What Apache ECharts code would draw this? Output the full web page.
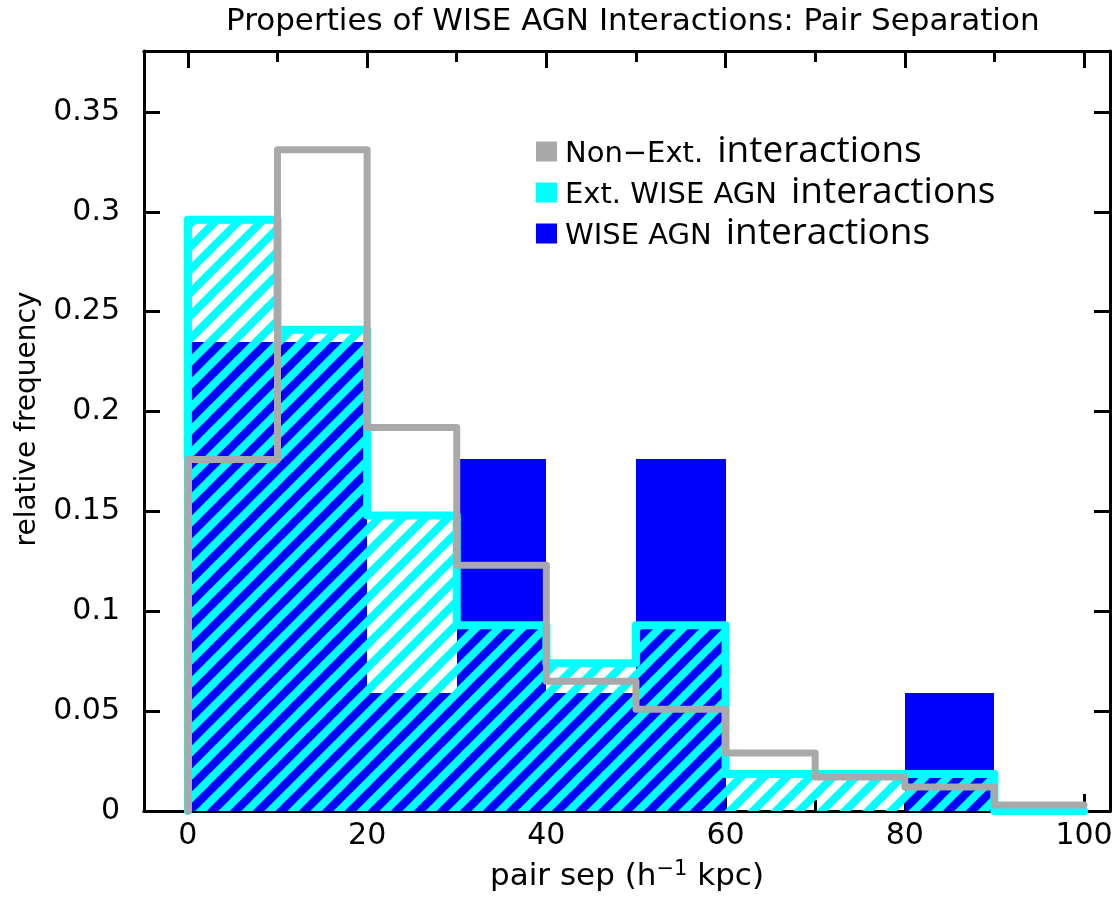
<!DOCTYPE html>
<html>
<head>
<meta charset="utf-8">
<script src="https://cdn.jsdelivr.net/npm/echarts@6/dist/echarts.min.js"></script>
<style>
  html, body { margin: 0; padding: 0; background: #fff; }
  #chart { width: 1116px; height: 900px; }
</style>
</head>
<body>
<div id="chart"></div>
<script>
// Histogram bin edges (pair separation, h^-1 kpc)
const binEdges = [0, 10, 20, 30, 40, 50, 60, 70, 80, 90, 100];
// Relative frequency per bin
const nonExtInteractions = [0.176, 0.331, 0.192, 0.123, 0.065, 0.051, 0.029, 0.017, 0.012, 0.003];
const extWiseAgn = [0.296, 0.241, 0.148, 0.093, 0.074, 0.093, 0.0185, 0.0185, 0.0185, 0];
const wiseAgn = [0.235, 0.235, 0.059, 0.176, 0.059, 0.176, 0, 0, 0.059, 0];
// Axis ticks and labels
const xMajorTicks = [0, 20, 40, 60, 80, 100];
const xMinorTicks = [10, 30, 50, 70, 90];
const yTicks = [0, 0.05, 0.1, 0.15, 0.2, 0.25, 0.3, 0.35];

const NAME_NONEXT = 'Non\u2212Ext. interactions';
const NAME_EXT = 'Ext. WISE AGN interactions';
const NAME_AGN = 'WISE AGN interactions';

const GRAY = '#a9a9a9';
const CYAN = '#00ffff';
const BLUE = '#0000ff';
const LABEL_FONT = '"DejaVu Sans", sans-serif';
const LEGEND_WORD_FONT = '"Open Sans", sans-serif';

// bins as [x0, x1, value]
function binRows(values) {
  return values.map((v, i) => [binEdges[i], binEdges[i + 1], v]);
}
// outline of a histogram as a step path through bin edges
function stepPoints(values) {
  const pts = [[binEdges[0], 0]];
  values.forEach((v, i) => {
    pts.push([binEdges[i], v]);
    pts.push([binEdges[i + 1], v]);
  });
  return pts;
}

// seamless diagonal hatch tile, transparent between stripes
function hatchTile() {
  const p = 23;
  const c = document.createElement('canvas');
  c.width = p; c.height = p;
  const ctx = c.getContext('2d');
  ctx.strokeStyle = CYAN;
  ctx.lineWidth = 8;
  ctx.lineCap = 'square';
  for (let k = -2; k <= 2; k++) {
    ctx.beginPath();
    ctx.moveTo(k * p - p, 2 * p);
    ctx.lineTo(k * p + 2 * p, -p);
    ctx.stroke();
  }
  return c;
}

// one rectangle per bin, edges snapped to whole pixels so neighbours join cleanly
function rectRenderer(fill) {
  return function (params, api) {
    const top = api.coord([api.value(0), api.value(2)]);
    const bottom = api.coord([api.value(1), 0]);
    const x0 = Math.round(top[0]), x1 = Math.round(bottom[0]);
    const y0 = Math.round(top[1]), y1 = Math.round(bottom[1]);
    if (y1 - y0 <= 0) return null;
    return {
      type: 'rect',
      shape: { x: x0, y: y0, width: x1 - x0, height: y1 - y0 },
      style: { fill: fill, stroke: null }
    };
  };
}

const chart = echarts.init(document.getElementById('chart'), null, { renderer: 'canvas' });

const axisLineStyle = { color: '#000', width: 3 };
const xRange = { min: -4.9, max: 102.9 };

function xAxisDef(position, ticks, len, withLabels, extra) {
  return Object.assign({
    type: 'value', position: position, min: xRange.min, max: xRange.max,
    axisLine: { show: true, onZero: false, lineStyle: axisLineStyle },
    axisTick: { show: true, inside: true, length: len, customValues: ticks, lineStyle: { color: '#000', width: 3 } },
    axisLabel: withLabels ? {
      show: true, customValues: ticks, margin: 10, color: '#000',
      fontFamily: LABEL_FONT, fontSize: 30
    } : { show: false },
    splitLine: { show: false }
  }, extra || {});
}

function yAxisDef(position, withLabels, extra) {
  return Object.assign({
    type: 'value', position: position, min: 0, max: 0.3805,
    axisLine: { show: true, onZero: false, lineStyle: axisLineStyle },
    axisTick: { show: true, inside: true, length: 16, customValues: yTicks, lineStyle: { color: '#000', width: 3 } },
    axisLabel: withLabels ? {
      show: true, customValues: yTicks, margin: 24, color: '#000',
      fontFamily: LABEL_FONT, fontSize: 30
    } : { show: false },
    splitLine: { show: false }
  }, extra || {});
}

const option = {
  animation: false,
  backgroundColor: '#fff',
  title: {
    text: 'Properties of WISE AGN Interactions: Pair Separation',
    left: 221, top: 1,
    textStyle: { fontFamily: LABEL_FONT, fontSize: 31, fontWeight: 'normal', color: '#000' }
  },
  grid: { left: 144, right: 6, top: 51, bottom: 89 },
  legend: {
    orient: 'vertical',
    left: 536, top: 133, padding: 0,
    itemWidth: 21, itemHeight: 20, itemGap: 4,
    icon: 'rect',
    data: [
      { name: NAME_NONEXT, itemStyle: { color: GRAY, borderWidth: 0 } },
      { name: NAME_EXT, itemStyle: { color: CYAN, borderWidth: 0 } },
      { name: NAME_AGN, itemStyle: { color: BLUE, borderWidth: 0 } }
    ],
    formatter: function (name) {
      const cut = name.lastIndexOf(' interactions');
      return '{a|' + name.slice(0, cut) + '}{b|interactions}';
    },
    textStyle: {
      color: '#000',
      rich: {
        a: { fontFamily: LABEL_FONT, fontSize: 29, lineHeight: 32, color: '#000', padding: [5, 14, 0, 3] },
        b: { fontFamily: LEGEND_WORD_FONT, fontSize: 37, lineHeight: 32, color: '#000' }
      }
    },
    selectedMode: false
  },
  xAxis: [
    xAxisDef('bottom', xMajorTicks, 17, true, {
      name: 'pair sep (h{sup|\u22121} kpc)',
      nameLocation: 'middle', nameGap: 48,
      nameTextStyle: {
        fontFamily: LABEL_FONT, fontSize: 31, color: '#000',
        rich: { sup: { fontFamily: LABEL_FONT, fontSize: 21, color: '#000', padding: [0, 0, 15, 0] } }
      }
    }),
    xAxisDef('bottom', xMinorTicks, 11, false),
    xAxisDef('top', xMajorTicks, 17, false),
    xAxisDef('top', xMinorTicks, 11, false)
  ],
  yAxis: [
    yAxisDef('left', true, {
      name: 'relative frequency', nameLocation: 'middle', nameGap: 102,
      nameTextStyle: { fontFamily: LABEL_FONT, fontSize: 28, color: '#000', padding: [0, 0, 0, 24] }
    }),
    yAxisDef('right', false)
  ],
  series: [
    {
      name: NAME_AGN, type: 'custom', z: 2,
      xAxisIndex: 0, yAxisIndex: 0,
      encode: { x: [0, 1], y: 2 },
      itemStyle: { color: BLUE },
      renderItem: rectRenderer(BLUE),
      data: binRows(wiseAgn)
    },
    {
      name: NAME_EXT, type: 'custom', z: 3,
      xAxisIndex: 0, yAxisIndex: 0,
      encode: { x: [0, 1], y: 2 },
      itemStyle: { color: CYAN },
      renderItem: rectRenderer({ image: hatchTile(), repeat: 'repeat' }),
      data: binRows(extWiseAgn)
    },
    {
      name: NAME_EXT, type: 'line', z: 4,
      xAxisIndex: 0, yAxisIndex: 0,
      showSymbol: false, symbol: 'none',
      lineStyle: { color: CYAN, width: 8, cap: 'round', join: 'round' },
      itemStyle: { color: CYAN },
      data: stepPoints(extWiseAgn)
    },
    {
      name: NAME_NONEXT, type: 'line', z: 5,
      xAxisIndex: 0, yAxisIndex: 0,
      showSymbol: false, symbol: 'none',
      lineStyle: { color: GRAY, width: 7, cap: 'round', join: 'round' },
      itemStyle: { color: GRAY },
      data: stepPoints(nonExtInteractions)
    }
  ]
};

chart.setOption(option);
</script>
</body>
</html>
